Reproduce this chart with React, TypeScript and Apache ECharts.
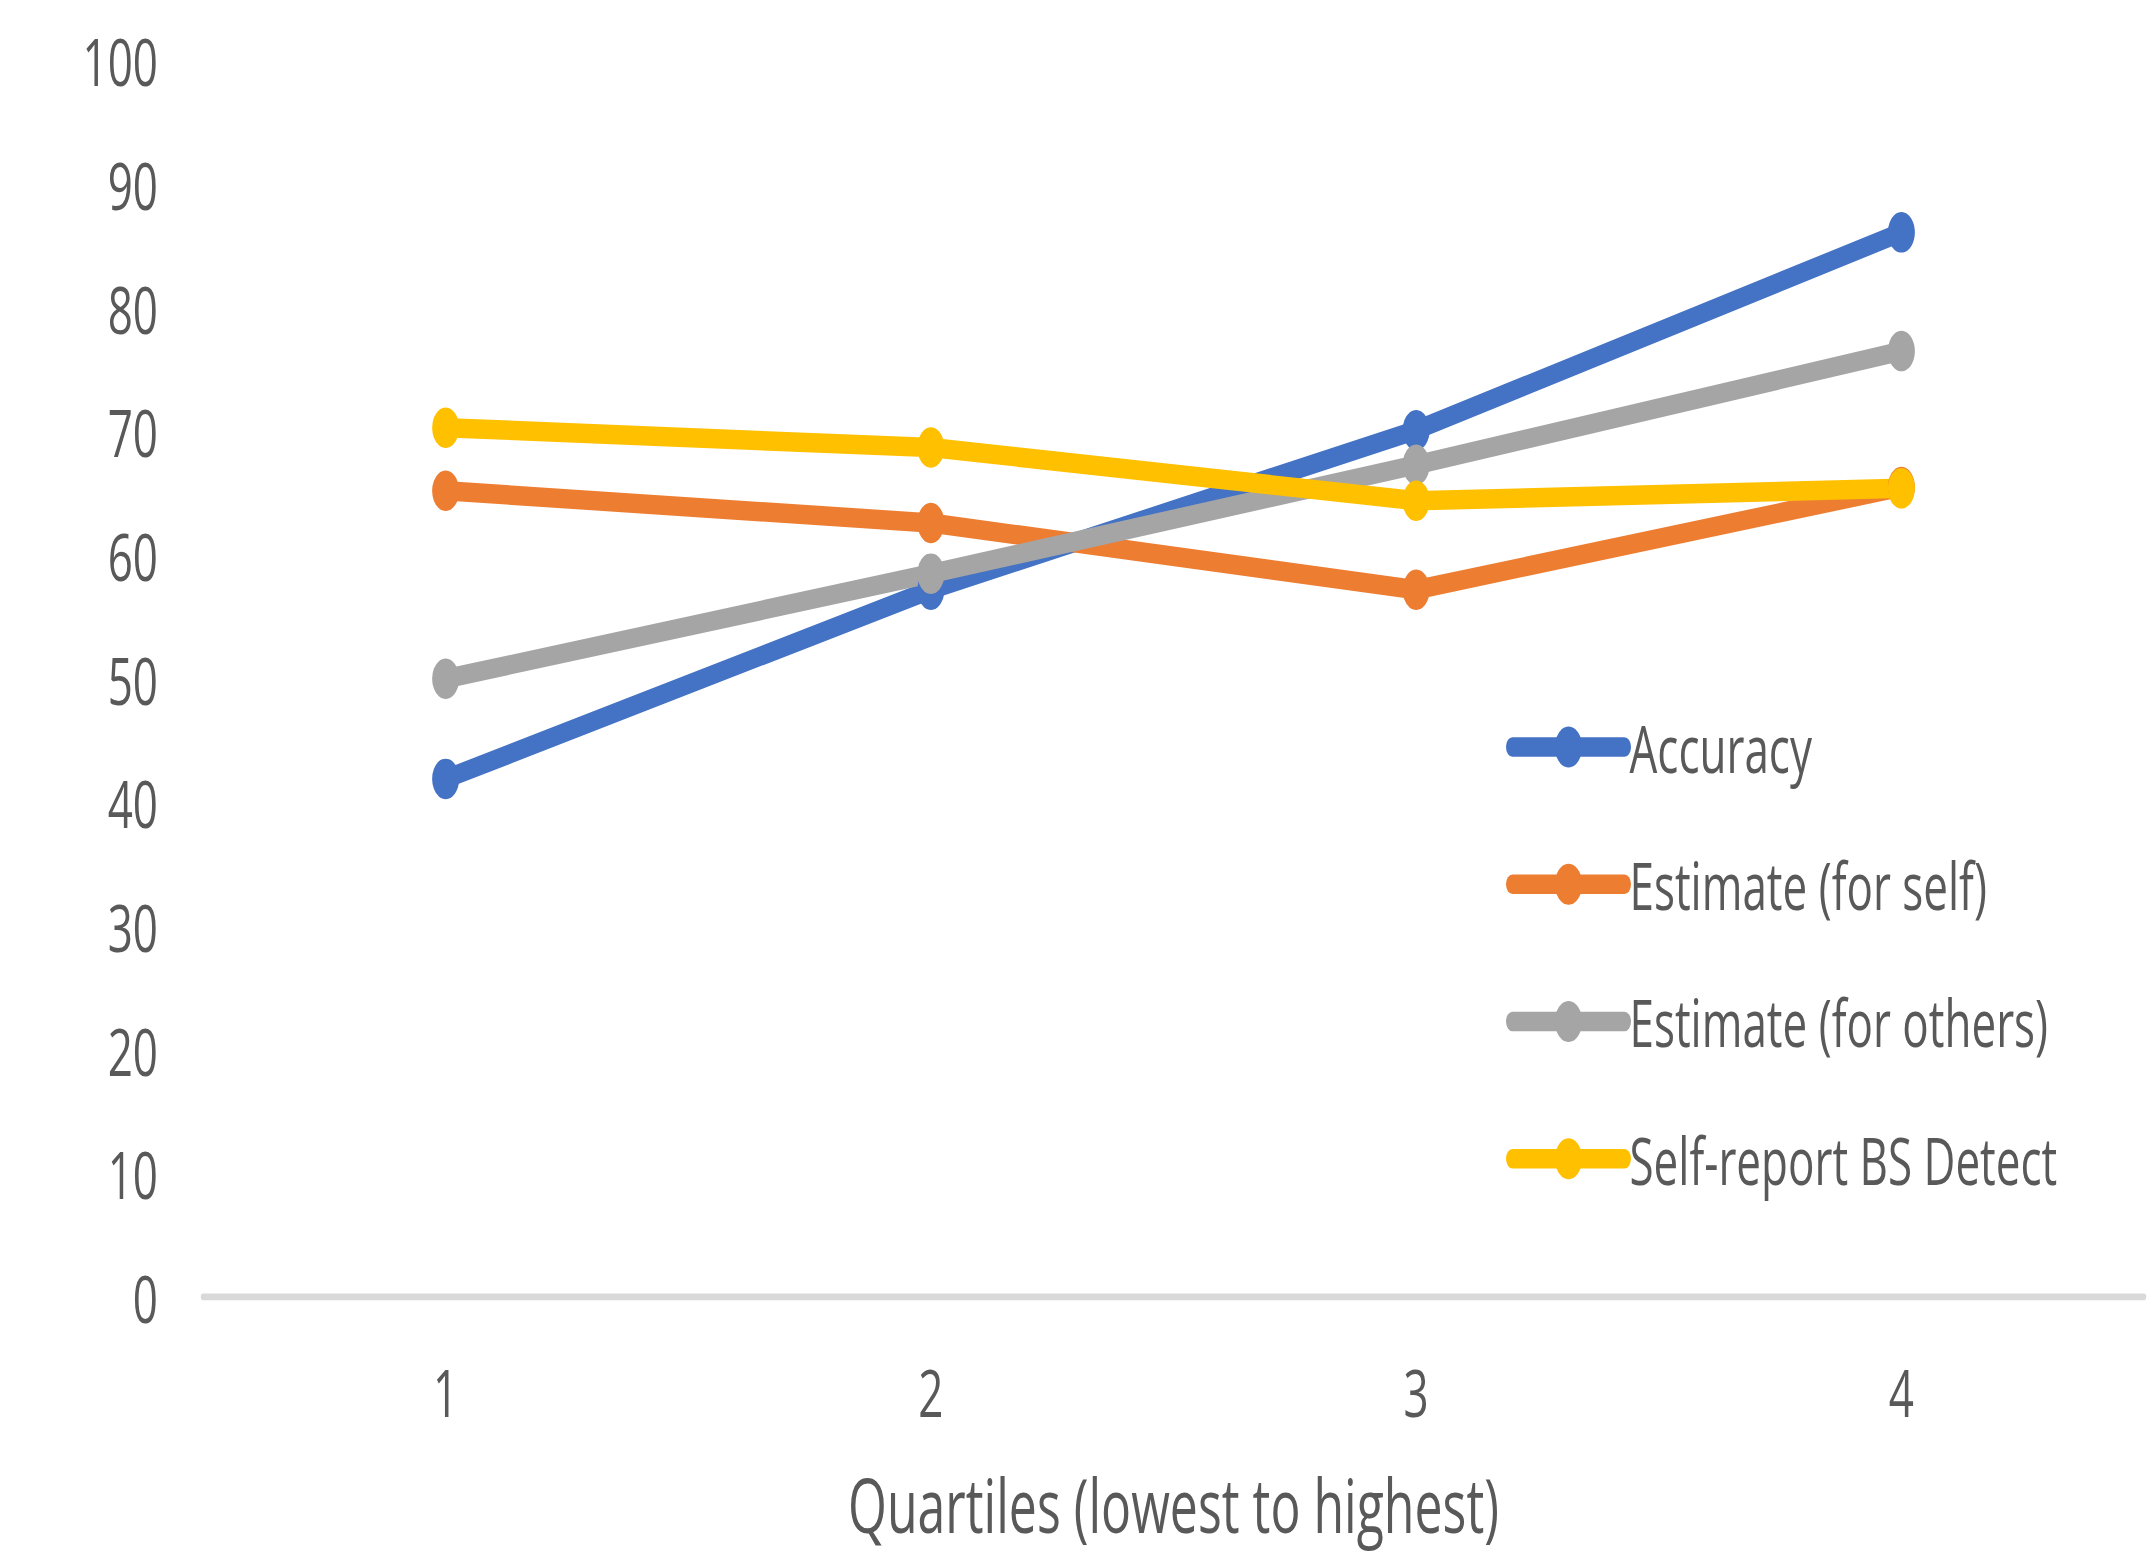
import React, { useEffect, useRef } from "react";
import * as echarts from "echarts";

const categories = ["1", "2", "3", "4"];
const accuracy = [41.9, 57.2, 70.1, 86.1];
const estimateSelf = [65.2, 62.6, 57.2, 65.5];
const estimateOthers = [50.0, 58.5, 67.3, 76.5];
const selfReport = [70.3, 68.7, 64.4, 65.4];
const seriesNames = ["Accuracy", "Estimate (for self)", "Estimate (for others)", "Self-report BS Detect"];
const seriesColors = ["#4472C4", "#ED7D31", "#A5A5A5", "#FFC000"];
const xTitle = "Quartiles (lowest to highest)";

const STRETCH = 1.5;
const W = 2152;
const H = 1557 / STRETCH;

export default function App() {
  const ref = useRef<HTMLDivElement>(null);
  useEffect(() => {
    if (!ref.current) return;
    const chart = echarts.init(ref.current, undefined, { renderer: "svg" });
    const font = "'Open Sans', 'Noto Sans', sans-serif";
    const values = [accuracy, estimateSelf, estimateOthers, selfReport];
    chart.setOption({
      animation: false,
      backgroundColor: "#ffffff",
      grid: { left: 203, right: 8, top: 40.33, bottom: H - 864.67 },
      xAxis: {
        type: "category",
        data: categories,
        boundaryGap: true,
        axisLine: { show: true, lineStyle: { color: "#D9D9D9", width: 4.5 } },
        axisTick: { show: false },
        axisLabel: { color: "#595959", fontSize: 44, lineHeight: 44, fontFamily: font, margin: 41 },
        name: xTitle,
        nameLocation: "middle",
        nameGap: 113,
        nameTextStyle: { color: "#595959", fontSize: 50, lineHeight: 50, fontFamily: font },
      },
      yAxis: {
        type: "value",
        min: 0,
        max: 100,
        interval: 10,
        axisLine: { show: false },
        axisTick: { show: false },
        splitLine: { show: false },
        axisLabel: { color: "#595959", fontSize: 44, fontFamily: font, margin: 45 },
      },
      legend: {
        orient: "vertical",
        left: 1501,
        top: 471,
        itemWidth: 112,
        itemHeight: 34,
        itemGap: 47.5,
        data: seriesNames,
        textStyle: { color: "#595959", fontSize: 44, lineHeight: 44, fontFamily: font },
        lineStyle: { width: 13, cap: "round" },
      },
      series: seriesNames.map((name, i) => ({
        name,
        type: "line",
        data: values[i],
        color: seriesColors[i],
        symbol: "circle",
        symbolSize: 27,
        lineStyle: { width: 13, color: seriesColors[i] },
        itemStyle: { color: seriesColors[i] },
      })),
    });
    return () => chart.dispose();
  }, []);
  return (
    <div
      ref={ref}
      style={{
        position: "absolute",
        left: 0,
        top: 0,
        width: W,
        height: H,
        transform: `scaleY(${STRETCH})`,
        transformOrigin: "0 0",
        background: "#fff",
      }}
    />
  );
}
